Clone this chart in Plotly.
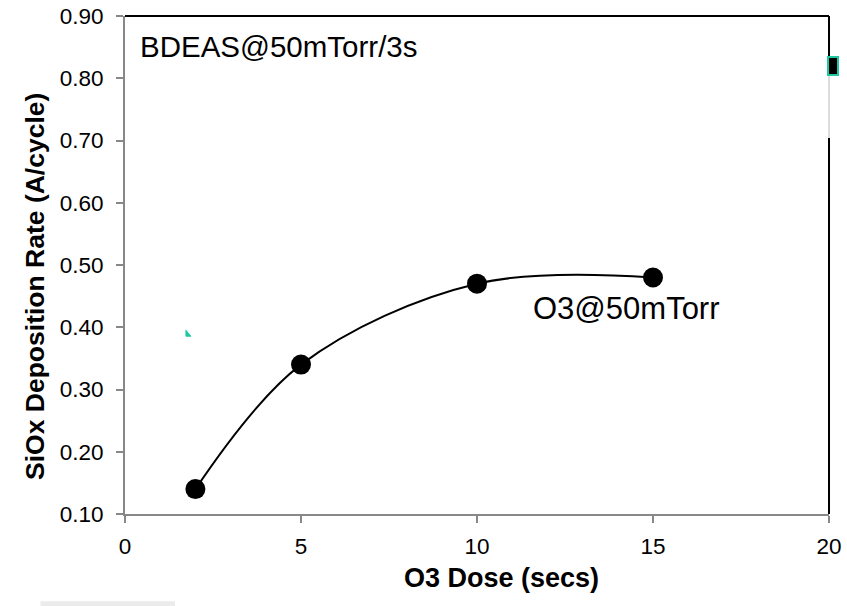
import plotly.graph_objects as go

dose_secs = [2, 5, 10, 15]
dep_rate = [0.14, 0.34, 0.47, 0.48]
x_ticks = [0, 5, 10, 15, 20]
y_ticks = [0.10, 0.20, 0.30, 0.40, 0.50, 0.60, 0.70, 0.80, 0.90]

FONT = "Liberation Sans, Arial, sans-serif"

fig = go.Figure()
fig.add_trace(go.Scatter(
    x=dose_secs, y=dep_rate, mode="lines+markers",
    line=dict(color="black", width=2, shape="spline", smoothing=1.0),
    marker=dict(color="black", size=20),
    showlegend=False, cliponaxis=False, hoverinfo="skip",
))

fig.update_xaxes(
    range=[0, 20], tickvals=x_ticks, ticks="outside", ticklen=7, tickcolor="#888888", tickwidth=2,
    showline=True, linecolor="#888888", linewidth=2, showgrid=False, zeroline=False,
    tickfont=dict(family=FONT, size=22.5, color="black"), ticklabelstandoff=4,
    ticklabeloverflow="allow", automargin=False,
)
fig.update_yaxes(
    range=[0.1, 0.9], tickvals=y_ticks, tickformat=".2f", ticks="outside", ticklen=7, tickcolor="#888888", tickwidth=2,
    showline=True, linecolor="#888888", linewidth=2, showgrid=False, zeroline=False,
    tickfont=dict(family=FONT, size=22.5, color="black"), ticklabelstandoff=8,
    ticklabeloverflow="allow", automargin=False,
)

shapes = [
    dict(type="line", xref="paper", yref="paper", x0=0, x1=1, y0=1, y1=1, line=dict(color="black", width=2)),
    dict(type="line", xref="paper", yref="paper", x0=1, x1=1, y0=0, y1=0.755, line=dict(color="black", width=2)),
    dict(type="line", xref="paper", yref="paper", x0=1, x1=1, y0=0.755, y1=0.8815, line=dict(color="#bbbbbb", width=1)),
    dict(type="line", xref="paper", yref="paper", x0=1, x1=1, y0=0.9177, y1=1, line=dict(color="black", width=2)),
    dict(type="rect", xref="paper", yref="paper", x0=0.9986, x1=1.0128, y0=0.8815, y1=0.9177,
         fillcolor="black", line=dict(color="#1ec8a0", width=2)),
    dict(type="path", xref="paper", yref="paper",
         path="M 0.0866 0.369 L 0.0866 0.357 L 0.0935 0.357 Z",
         fillcolor="#1ec8a0", line=dict(color="#1ec8a0", width=1)),
    dict(type="rect", xref="paper", yref="paper", x0=-0.12, x1=0.071, y0=-0.185, y1=-0.175,
         fillcolor="#d8d8d8", opacity=0.5, line=dict(width=0)),
]
fig.update_layout(shapes=shapes)

fig.add_annotation(xref="paper", yref="paper", x=0.0185, y=0.938, xanchor="left", yanchor="middle",
                   text="BDEAS@50mTorr/3s", showarrow=False,
                   font=dict(family=FONT, size=29.5, color="black"))
fig.add_annotation(xref="paper", yref="paper", x=0.5763, y=0.412, xanchor="left", yanchor="middle",
                   text="O3@50mTorr", showarrow=False,
                   font=dict(family=FONT, size=31, color="black"))
# axis titles
fig.add_annotation(xref="paper", yref="paper", x=0.5355, y=-0.1285, xanchor="center", yanchor="middle",
                   text="<b>O3 Dose (secs)</b>", showarrow=False,
                   font=dict(family=FONT, size=27, color="black"))
fig.add_annotation(xref="paper", yref="paper", x=-0.1278, y=0.456, xanchor="center", yanchor="middle",
                   text="<b>SiOx Deposition Rate (A/cycle)</b>", showarrow=False, textangle=-90,
                   font=dict(family=FONT, size=26.5, color="black"))

fig.update_layout(
    width=847, height=606,
    margin=dict(l=125, r=18, t=16, b=92, autoexpand=False),
    paper_bgcolor="white", plot_bgcolor="white",
    font=dict(family=FONT, color="black"),
    hovermode=False,
)

fig.write_html("out.html", config={"displayModeBar": False},
               post_script="document.body.style.margin='0';document.body.style.overflow='hidden';")
